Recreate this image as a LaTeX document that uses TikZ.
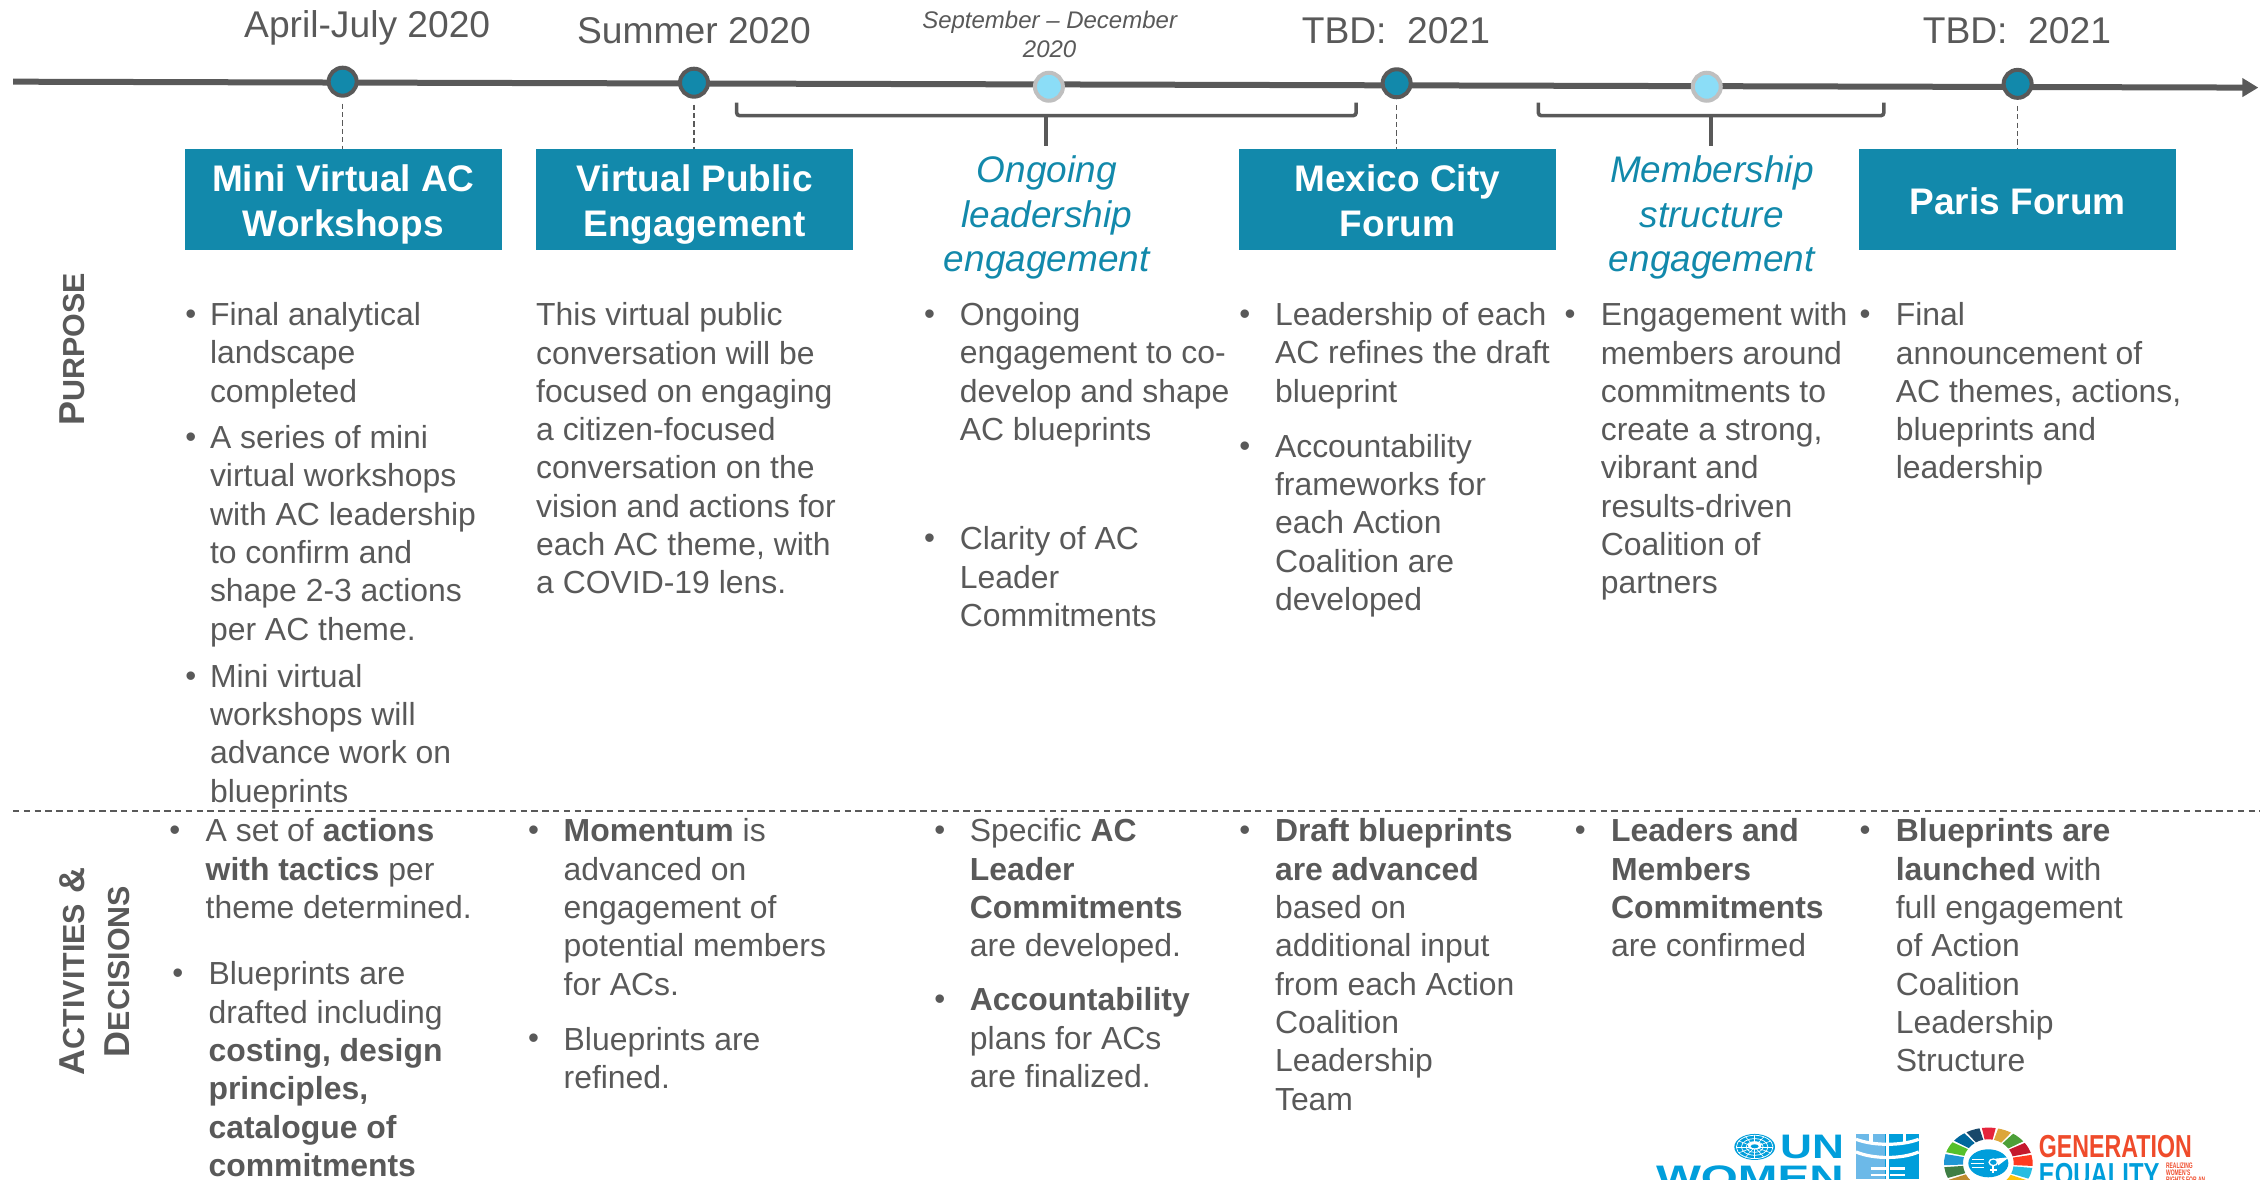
\documentclass[tikz,border=0pt]{standalone}
\usepackage{fontspec}
\setmainfont{Liberation Sans}
\usetikzlibrary{arrows.meta}
\definecolor{txtgray}{HTML}{595959}
\definecolor{teal1}{HTML}{1289AB}
\definecolor{lightc}{HTML}{8BDDF7}
\definecolor{lightr}{HTML}{BFBFBF}
\definecolor{unblue}{HTML}{009EDB}
\definecolor{unlight}{HTML}{6CB9E8}
\definecolor{genred}{HTML}{EF4B2B}
\tikzset{
  body/.style={anchor=north west,inner sep=0pt,align=left,text=txtgray,font=\fontsize{15.95}{19.16}\selectfont},
  bulletmark/.style={inner sep=0pt,text=txtgray,font=\fontsize{15.6}{19.16}\selectfont},
  datelabel/.style={inner sep=0pt,text=txtgray,font=\fontsize{18.6}{22}\selectfont},
  smalldate/.style={inner sep=0pt,align=center,text=txtgray,font=\fontsize{12}{14.5}\selectfont\itshape},
  headbox/.style={fill=teal1,text=white,inner sep=0pt,align=center,minimum width=158.3pt,minimum height=50.6pt,font=\fontsize{18.5}{22.4}\selectfont\bfseries},
  tealitalic/.style={inner sep=0pt,align=center,text=teal1,font=\fontsize{18.5}{22.4}\selectfont\itshape},
  sidelabel/.style={inner sep=0pt,rotate=90,text=txtgray,font=\fontsize{18}{22}\selectfont\bfseries},
  milestone/.style={circle,draw=txtgray,fill=teal1,line width=2pt,minimum size=14pt,inner sep=0pt},
  softstone/.style={circle,draw=lightr,fill=lightc,line width=2pt,minimum size=14pt,inner sep=0pt},
  drop/.style={draw=txtgray,line width=.6pt,dash pattern=on 2.6pt off 1.6pt},
  bracket/.style={draw=txtgray,line width=1.8pt,rounded corners=1.5pt},
  stem/.style={draw=txtgray,line width=1.8pt,shorten >=4.7pt},
  divider/.style={draw=txtgray,line width=.7pt,dash pattern=on 3.2pt off 2.2pt},
}
\newcommand\txt[4]{\node[body] (#1) at (#2,{#3-18}) {\rule{0pt}{13pt}#4};}
\newcommand\bul[3]{\node[bulletmark] (#1) at (#2,{#3-5.5}) {•};}
\newcommand\sm[1]{{\fontsize{15.2}{22}\selectfont #1}}
\newcommand\hb[2]{\rule{0pt}{19.4pt}#1\\#2\rule[-5pt]{0pt}{5pt}}
\begin{document}
\begin{tikzpicture}[x=0.7229pt,y=-0.7229pt]
\useasboundingbox (0,0) rectangle (1568,815.5);
\clip (0,0) rectangle (1568,815.5);
% timeline
\coordinate (tlS) at (9,56.5);
\coordinate (tlE) at (1562,60.6);
\draw[draw=txtgray,line width=3pt,-{Triangle[length=8pt,width=9pt]}] (tlS) -- (tlE);
% milestones
\node[milestone] (m1) at (237,56.5) {};
\node[milestone] (m2) at (480,57.2) {};
\node[softstone] (m3) at (725.5,60) {};
\node[milestone] (m4) at (966,57.6) {};
\node[softstone] (m5) at (1180.5,60) {};
\node[milestone] (m6) at (1395.5,58) {};
% date labels
\node[datelabel] (d1) at (254,19) {April-July 2020};
\node[datelabel] (d2) at (480,21.5) {Summer 2020};
\node[smalldate] (d3) at (726,24) {September – December\\2020};
\node[datelabel] (d4) at (965.5,21.5) {TBD:\ \ 2021};
\node[datelabel] (d6) at (1395,21.5) {TBD:\ \ 2021};
% header boxes
\node[headbox] (b1) at (237.5,138) {\hb{Mini Virtual AC}{Workshops}};
\node[headbox] (b2) at (480.5,138) {\hb{Virtual Public}{Engagement}};
\node[headbox] (b4) at (966.5,138) {\hb{Mexico City}{Forum}};
\node[headbox] (b6) at (1395.5,138) {\rule[-3pt]{0pt}{20.6pt}Paris Forum};
\node[tealitalic] (i3) at (724,150.5) {Ongoing\\leadership\\engagement};
\node[tealitalic] (i5) at (1184,150.5) {Membership\\structure\\engagement};
% dropped lines
\draw[drop,shorten <=3pt] (m1) -- (b1.north -| m1);
\draw[drop,shorten <=3pt] (m2) -- (b2.north -| m2);
\draw[drop,shorten <=3pt] (m4) -- (b4.north -| m4);
\draw[drop,shorten <=3pt] (m6) -- (b6.north -| m6);
% brackets
\coordinate (a1) at (509.5,71); \coordinate (a2) at (938,71);
\coordinate (a3) at (723.5,80);
\coordinate (c1) at (1064,71); \coordinate (c2) at (1303,71);
\coordinate (c3) at (1183.5,80);
\draw[bracket] (a1) |- (a3) -| (a2);
\draw[bracket] (c1) |- (c3) -| (c2);
\draw[stem] (a3) -- (a3 |- i3.north);
\draw[stem] (c3) -- (c3 |- i5.north);
% side labels
\node[sidelabel] (s1) at (50,241.5) {P\sm{URPOSE}};
\node[sidelabel] (s2) at (50,672) {A\sm{CTIVITIES} \&};
\node[sidelabel] (s3) at (81,672) {D\sm{ECISIONS}};
% divider
\coordinate (dvS) at (9,561); \coordinate (dvE) at (1563,561);
\draw[divider] (dvS) -- (dvE);
% purpose
\bul{p1a}{132}{225}\txt{t1a}{145}{225}{Final analytical\\landscape\\completed}
\bul{p1b}{132}{310}\txt{t1b}{145}{310}{A series of mini\\virtual workshops\\with AC leadership\\to confirm and\\shape 2-3 actions\\per AC theme.}
\bul{p1c}{132}{475}\txt{t1c}{145}{475}{Mini virtual\\workshops will\\advance work on\\blueprints}
\txt{t2a}{370.6}{225}{This virtual public\\conversation will be\\focused on engaging\\a citizen-focused\\conversation on the\\vision and actions for\\each AC theme, with\\a COVID-19 lens.}
\bul{p3a}{643}{225}\txt{t3a}{663.6}{225}{Ongoing\\engagement to co-\\develop and shape\\AC blueprints}
\bul{p3b}{643}{380}\txt{t3b}{663.6}{380}{Clarity of AC\\Leader\\Commitments}
\bul{p4a}{861}{225}\txt{t4a}{881.6}{225}{Leadership of each\\AC refines the draft\\blueprint}
\bul{p4b}{861}{316}\txt{t4b}{881.6}{316}{Accountability\\frameworks for\\each Action\\Coalition are\\developed}
\bul{p5a}{1086}{225}\txt{t5a}{1107}{225}{Engagement with\\members around\\commitments to\\create a strong,\\vibrant and\\results-driven\\Coalition of\\partners}
\bul{p6a}{1290}{225}\txt{t6a}{1311}{225}{Final\\announcement of\\AC themes, actions,\\blueprints and\\leadership}
% activities
\bul{q1a}{121}{582}\txt{u1a}{142}{582}{A set of \textbf{actions}\\\textbf{with tactics} per\\theme determined.}
\bul{q1b}{123}{681}\txt{u1b}{144}{681}{Blueprints are\\drafted including\\\textbf{costing, design}\\\textbf{principles,}\\\textbf{catalogue of}\\\textbf{commitments}}
\bul{q2a}{369}{582}\txt{u2a}{389.6}{582}{\textbf{Momentum} is\\advanced on\\engagement of\\potential members\\for ACs.}
\bul{q2b}{369}{726}\txt{u2b}{389.6}{726}{Blueprints are\\refined.}
\bul{q3a}{650}{582}\txt{u3a}{670.6}{582}{Specific \textbf{AC}\\\textbf{Leader}\\\textbf{Commitments}\\are developed.}
\bul{q3b}{650}{699}\txt{u3b}{670.6}{699}{\textbf{Accountability}\\plans for ACs\\are finalized.}
\bul{q4a}{861}{582}\txt{u4a}{881.6}{582}{\textbf{Draft blueprints}\\\textbf{are advanced}\\based on\\additional input\\from each Action\\Coalition\\Leadership\\Team}
\bul{q5a}{1093}{582}\txt{u5a}{1114}{582}{\textbf{Leaders and}\\\textbf{Members}\\\textbf{Commitments}\\are confirmed}
\bul{q6a}{1290}{582}\txt{u6a}{1311}{582}{\textbf{Blueprints are}\\\textbf{launched} with\\full engagement\\of Action\\Coalition\\Leadership\\Structure}
% UN Women logo (coordinates of the logo crop)
\begin{scope}[shift={(1134.3,767.7)},scale=.2306]
  \fill[unblue] (344,111) ellipse [x radius=61,y radius=39];
  \foreach \r in {1,.72,.46}{\draw[white,line width=.35pt] (344,111) ellipse [x radius=55*\r,y radius=35*\r];}
  \foreach \a in {0,30,...,330}{\draw[white,line width=.3pt] (344,111) -- +(\a:56 and 36);}
  \fill[white] (344,107) ellipse [x radius=20,y radius=12];
  \fill[unblue] (344,109) ellipse [x radius=12,y radius=6];
  % shelter icon
  \fill[unlight] (648,72) rectangle (735,207);
  \fill[unblue] (735,72) rectangle (836,207);
  \draw[white,line width=1.6pt] (693,72) -- (693,100) (742,72) -- (742,207) (793,72) -- (793,100);
  \draw[white,line width=1.6pt] (648,88) .. controls (700,108) and (785,108) .. (836,88);
  \draw[white,line width=1.6pt] (648,126) .. controls (700,148) and (785,148) .. (836,126);
  \draw[white,line width=1.4pt] (692,175) -- (742,175) (692,195) -- (742,195) (750,175) -- (795,175) (750,195) -- (795,195);
\end{scope}
\node[inner sep=0pt,text=unblue,font=\fontsize{17}{17}\selectfont\bfseries,xscale=1.3,anchor=base] (un) at (1253.3,801) {UN};
\node[inner sep=0pt,text=unblue,font=\fontsize{17}{17}\selectfont\bfseries,xscale=1.4,anchor=base] (wm) at (1210.3,822.6) {WOMEN};
% Generation Equality logo
\begin{scope}[shift={(1334.9,767.7)},scale=.2306]
  \begin{scope}[shift={(175,160)}]
  \foreach \c [count=\i] in {E5243B,DDA63A,4C9F38,C5192D,FF3A21,26BDE2,FCC30B,A21942,FD6925,DD1367,FD9D24,BF8B2E,3F7E44,1F97D4,56C02B,00689D,19486A}{
    \pgfmathsetmacro\aA{-100+(\i-1)*21.18+1.6}
    \pgfmathsetmacro\aB{-100+\i*21.18-1.6}
    \definecolor{segc}{HTML}{\c}
    \fill[segc] (\aA:133 and 107) arc[start angle=\aA,end angle=\aB,x radius=133,y radius=107] -- (\aB:76 and 72) arc[start angle=\aB,end angle=\aA,x radius=76,y radius=72] -- cycle;
  }
  \fill[unblue] (0,0) ellipse [x radius=60,y radius=42];
  \draw[white,line width=.7pt] (-48,-12) -- (-14,-12) (-52,0) -- (-14,0) (-48,12) -- (-14,12);
  \draw[white,line width=.9pt] (15,-3) circle [x radius=12,y radius=9];
  \draw[white,line width=.9pt] (15,6) -- (15,30) (5,20) -- (25,20);
  \fill[white] (22,-14) -- (62,-18) -- (30,6) -- cycle;
  \fill[unblue] (15,-3) ellipse [x radius=10,y radius=7.5];
  \end{scope}
\end{scope}
\node[inner sep=0pt,text=genred,font=\fontsize{15.9}{16}\selectfont\bfseries,xscale=.73,anchor=base west] (gen) at (1410,800.7) {GENERATION};
\node[inner sep=0pt,text=unblue,font=\fontsize{15.9}{16}\selectfont\bfseries,xscale=.75,anchor=base west] (eq) at (1410,820.3) {EQUALITY};
\node[inner sep=0pt,anchor=north west,align=left,text=genred,font=\fontsize{4}{3.6}\selectfont\bfseries,xscale=.62] (rw) at (1498,804) {REALIZING\\WOMEN'S\\RIGHTS FOR AN};
\end{tikzpicture}
\end{document}
